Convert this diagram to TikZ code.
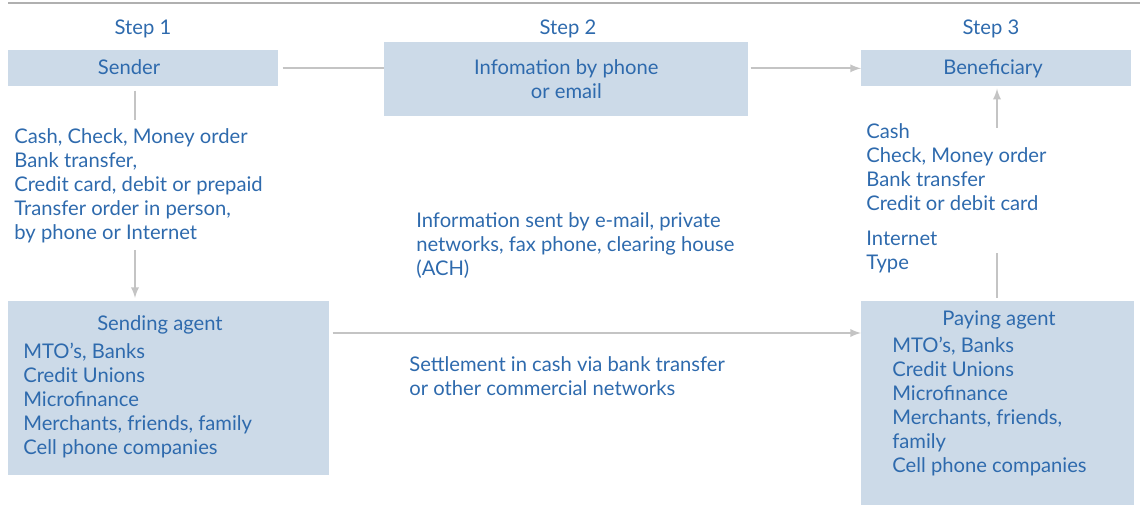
\documentclass[tikz,border=0pt]{standalone}
\usepackage{fontspec}
\setmainfont{Lato}
\usetikzlibrary{arrows,positioning}
\definecolor{boxblue}{HTML}{CCDAE8}
\definecolor{txtblue}{HTML}{2E6AAD}
\definecolor{lgray}{HTML}{C4C4C4}

\begin{document}
\begin{tikzpicture}
	[x=0.02cm,y=-0.02cm,
	box/.style={fill=boxblue,inner sep=0pt,anchor=north west,
		text=txtblue,font=\fontsize{11.5}{13.66}\selectfont,align=center},
	txt/.style={text=txtblue,font=\fontsize{11.5}{13.66}\selectfont,
		inner sep=0pt,anchor=base},
	lst/.style={txt,align=left,anchor=base west},
	conn/.style={draw=lgray,line width=1.1pt},
	arr/.style={conn,-latex}]
	\useasboundingbox (0,0) rectangle (1140,506);
	%---------------------top rule------------
	\draw[lgray!90!black,line width=1pt] (8,3) -- (1140,3);
	%---------------------steps------------
	\node[txt] (step1) at (143,35) {Step 1};
	\node[txt] (step2) at (568,35) {Step 2};
	\node[txt] (step3) at (991,35) {Step 3};
	%---------------------top boxes---------
	\node[box,minimum width=5.4cm,minimum height=0.72cm] (sender) at (8,50) {};
	\node[txt] (sendertxt) at (129,75) {Sender};
	\node[box,minimum width=7.28cm,minimum height=1.48cm] (info) at (384,42)
		{Infomation by phone\\or email};
	\node[box,minimum width=5.4cm,minimum height=0.72cm] (bene) at (861,50) {};
	\node[txt] (benetxt) at (993,75) {Beneficiary};
	%---------------------bottom boxes---------
	\node[box,minimum width=6.42cm,minimum height=3.48cm] (sendbox) at (8,301) {};
	\node[box,minimum width=5.46cm,minimum height=4.08cm] (paybox) at (861,301) {};
	\node[txt] (sendtitle) at (160,331) {Sending agent};
	% base of a multi-line node = its last line
	\node[lst] (sendlist) at (23,455) {MTO's, Banks\\Credit Unions\\Microfinance\\
		Merchants, friends, family\\Cell phone companies};
	\node[txt] (paytitle) at (999,326) {Paying agent};
	\node[lst] (paylist) at (892,473) {MTO's, Banks\\Credit Unions\\Microfinance\\
		Merchants, friends,\\family\\Cell phone companies};
	%---------------------free texts---------
	\node[lst] (cashlist) at (14,240) {Cash, Check, Money order\\Bank transfer,\\
		Credit card, debit or prepaid\\Transfer order in person,\\by phone or Internet};
	\node[lst] (paidlist) at (866,211) {Cash\\Check, Money order\\Bank transfer\\
		Credit or debit card};
	\node[lst] (inttype) at (866,270) {Internet\\Type};
	\node[lst] (infosent) at (416,276) {Information sent by e-mail, private\\
		networks, fax phone, clearing house\\(ACH)};
	\node[lst] (settle) at (409,396) {Settlement in cash via bank transfer\\
		or other commercial networks};
	%---------------------connectors---------
	\coordinate (s1) at (135,120);
	\coordinate (s2) at (135,250);
	\coordinate (s3) at (0,333);
	\coordinate (p1) at (997,253);
	\coordinate (p2) at (997,128);
	\draw[conn,shorten <=0.08cm] (sender) -- (info.west |- sender);
	\draw[arr,shorten <=0.04cm] (info.east |- bene) -- (bene);
	\draw[conn,shorten <=0.08cm] (sender.south -| s1) -- (s1);
	\draw[arr,shorten >=0.06cm] (s2) -- (sendbox.north -| s2);
	\draw[arr,shorten <=0.06cm] (sendbox.east |- s3) -- (paybox.west |- s3);
	\draw[conn,shorten <=0.06cm] (paybox.north -| p1) -- (p1);
	\draw[arr,shorten >=0.04cm] (p2) -- (bene.south -| p2);
\end{tikzpicture}
\end{document}
